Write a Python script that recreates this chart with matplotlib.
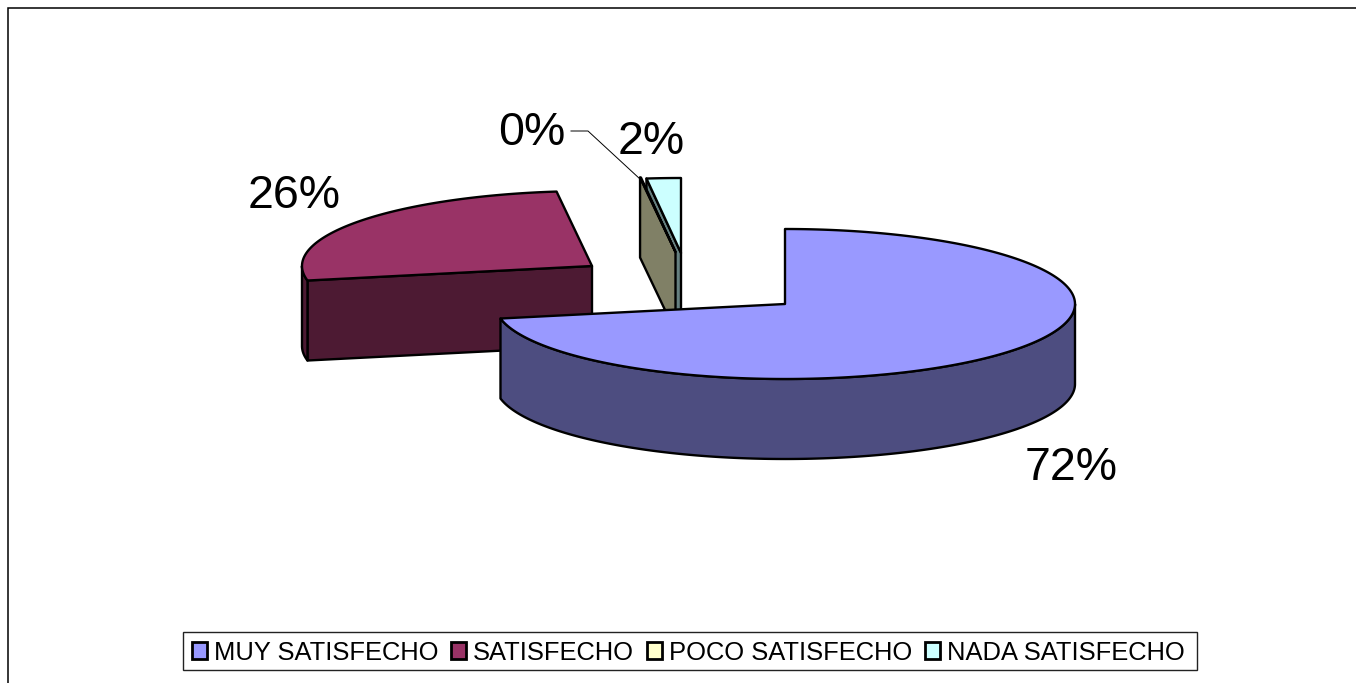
import numpy as np
import matplotlib
matplotlib.use("Agg")
import matplotlib.pyplot as plt
from matplotlib.patches import Polygon, Patch, Rectangle

plt.rcParams['font.family'] = ['Liberation Sans', 'DejaVu Sans']

# Data
categories = ["MUY SATISFECHO", "SATISFECHO", "POCO SATISFECHO", "NADA SATISFECHO"]
values = [71.9, 26.15, 0.05, 1.9]
pct_labels = ["72%", "26%", "0%", "2%"]

# Styles
top_colors = ["#9999FF", "#993366", "#FFFFCC", "#CCFFFF"]
side_colors = ["#4D4D80", "#4D1A33", "#808066", "#668080"]

# Layout (pixels of the 1356x683 picture)
W, H = 1356, 683
apex_x = [785, 592, 675.5, 681]
apex_y = [304, 266, 252, 253]
RX, RY, DEPTH = 290, 75, 80
label_x = [1071.5, 294.5, 531.5, 651.5]
label_y = [468, 196, 133, 142]
LW = 1.7

fig = plt.figure(figsize=(W / 100, H / 100), dpi=100, facecolor="white")
ax = fig.add_axes([0, 0, 1, 1])
ax.set_xlim(0, W)
ax.set_ylim(H, 0)
ax.axis("off")

# Outer chart frame: top and left edges only
ax.plot([8, 8, W], [H, 8, 8], color="black", lw=1.1, solid_joinstyle="miter", zorder=1)


def rim(cx, cy, t):
    return cx + RX * np.sin(t), cy - RY * np.cos(t)


def draw_slice(i, t0, t1, z):
    cx, cy = apex_x[i], apex_y[i]
    kw = dict(edgecolor="black", lw=LW, joinstyle="round", zorder=z)
    # Radial face at the start edge (visible when it faces the viewer)
    x0, y0 = rim(cx, cy, t0)
    if np.degrees(t0) > 180:
        ax.add_patch(Polygon([(cx, cy), (x0, y0), (x0, y0 + DEPTH), (cx, cy + DEPTH)],
                             closed=True, facecolor=side_colors[i], **kw))
    # Outer wall: only its front part (90..270 degrees clockwise from the top)
    a, b = max(t0, np.pi / 2), min(t1, 3 * np.pi / 2)
    if b > a:
        t = np.linspace(a, b, 200)
        xs, ys = rim(cx, cy, t)
        pts = np.r_[np.c_[xs, ys], np.c_[xs[::-1], ys[::-1] + DEPTH]]
        ax.add_patch(Polygon(pts, closed=True, facecolor=side_colors[i], **kw))
    # Top face
    t = np.linspace(t0, t1, max(int(np.degrees(t1 - t0) * 2), 4))
    xs, ys = rim(cx, cy, t)
    pts = np.r_[[(cx, cy)], np.c_[xs, ys]]
    ax.add_patch(Polygon(pts, closed=True, facecolor=top_colors[i], **kw))


edges = np.r_[0, np.cumsum(values)] / np.sum(values) * 2 * np.pi
for z, i in enumerate([3, 2, 1, 0]):
    draw_slice(i, edges[i], edges[i + 1], 2 + z)

# Percent labels
for i, s in enumerate(pct_labels):
    ax.text(label_x[i], label_y[i], s, fontsize=33.5, color="black",
            ha="center", va="center", zorder=10)

# Leader line for the 0% label
ax.plot([571, 588, 640], [131, 131, 179], color="black", lw=0.7, zorder=9)

# Legend box and entries
ax.add_patch(Rectangle((183, 632), 1014, 38, facecolor="white", edgecolor="#222222",
                       lw=1.0, zorder=9))
handles = [Patch(facecolor=c, edgecolor="black", lw=2.0, label=n)
           for c, n in zip(top_colors, categories)]
leg = ax.legend(handles=handles, ncol=4, loc="center left", bbox_to_anchor=(183.5, 652.5),
                bbox_transform=ax.transData, fontsize=18.35, frameon=False,
                handlelength=0.6, handleheight=0.6,
                handletextpad=0.27, columnspacing=0.5, borderpad=0.32, borderaxespad=0)
leg.set_zorder(10)

fig.savefig("out.png", dpi=100, facecolor="white")
